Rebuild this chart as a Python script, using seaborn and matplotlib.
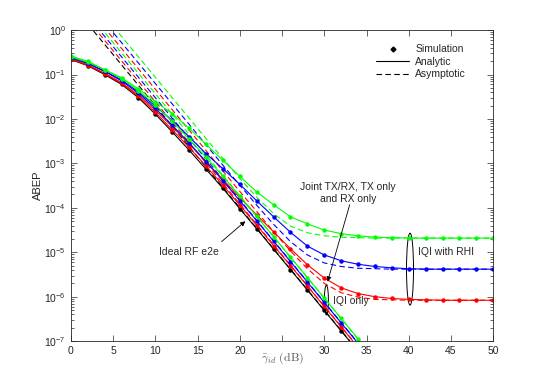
#!/usr/bin/env python3
"""ABEP versus average SNR: ideal RF, IQI only and IQI with RHI
"""

import numpy as np
import matplotlib
matplotlib.use('Agg')
import matplotlib.pyplot as plt
from matplotlib.lines import Line2D
from matplotlib.patches import Ellipse
from matplotlib.ticker import LogLocator, NullFormatter, LogFormatterSciNotation
import seaborn as sns

# x axis: average SNR in dB (simulation points every 2 dB)
snr_db = [0, 2, 4, 6, 8, 10, 12, 14, 16, 18, 20, 22, 24, 26, 28, 30, 32, 34,
          36, 38, 40, 42, 44, 46, 48, 50]
x_ticks = [0, 5, 10, 15, 20, 25, 30, 35, 40, 45, 50]
# the 25 label is hidden behind the axis label in the original
x_tick_labels = ['0', '5', '10', '15', '20', '', '30', '35', '40', '45', '50']
y_ticks = [1e-7, 1e-6, 1e-5, 1e-4, 1e-3, 1e-2, 1e-1, 1e0]

# ABEP, in decades (log10)
ideal = [-0.66, -0.80, -1.00, -1.22, -1.52, -1.89, -2.29, -2.70, -3.13, -3.56,
         -4.02, -4.47, -4.93, -5.39, -5.85, -6.31, -6.77, -7.23]
iqi_red = [-0.65, -0.79, -0.98, -1.20, -1.49, -1.85, -2.24, -2.64, -3.06, -3.49,
           -3.94, -4.39, -4.85, -5.30, -5.76, -6.22, -6.68, -7.14]
iqi_blue = [-0.62, -0.75, -0.93, -1.14, -1.42, -1.76, -2.14, -2.54, -2.96, -3.39,
            -3.84, -4.29, -4.75, -5.21, -5.67, -6.13, -6.59, -7.05]
iqi_green = [-0.60, -0.72, -0.89, -1.09, -1.36, -1.68, -2.05, -2.45, -2.86, -3.29,
             -3.74, -4.19, -4.65, -5.11, -5.57, -6.03, -6.49, -6.95, -7.41]
rhi_red = [-0.64, -0.78, -0.97, -1.18, -1.46, -1.80, -2.17, -2.56, -2.96, -3.36,
           -3.77, -4.16, -4.54, -4.92, -5.28, -5.58, -5.80, -5.93, -6.00, -6.04,
           -6.06, -6.07, -6.08, -6.08, -6.08, -6.08]
rhi_blue = [-0.61, -0.74, -0.92, -1.12, -1.39, -1.71, -2.03, -2.40, -2.78, -3.12,
            -3.47, -3.84, -4.20, -4.55, -4.86, -5.06, -5.19, -5.27, -5.32, -5.35,
            -5.37, -5.38, -5.38, -5.38, -5.38, -5.38]
rhi_green = [-0.58, -0.70, -0.89, -1.07, -1.32, -1.61, -1.88, -2.21, -2.57, -2.93,
             -3.29, -3.64, -3.93, -4.20, -4.36, -4.50, -4.58, -4.63, -4.66, -4.67,
             -4.68, -4.68, -4.68, -4.68, -4.68, -4.68]

# asymptotic (high SNR) curves, log10
asym_ideal = [0.60, 0.14, -0.32, -0.78, -1.24, -1.70, -2.16, -2.62, -3.08, -3.54,
              -4.00, -4.46, -4.92, -5.38, -5.84, -6.30, -6.76, -7.22]
asym_iqi_red = [0.69, 0.23, -0.23, -0.69, -1.15, -1.61, -2.07, -2.53, -2.99, -3.45,
                -3.91, -4.37, -4.83, -5.29, -5.75, -6.21, -6.67, -7.13]
asym_iqi_blue = [0.78, 0.32, -0.14, -0.60, -1.06, -1.52, -1.98, -2.44, -2.90, -3.36,
                 -3.82, -4.28, -4.74, -5.20, -5.66, -6.12, -6.58, -7.04]
asym_iqi_green = [0.87, 0.41, -0.05, -0.51, -0.97, -1.43, -1.89, -2.35, -2.81, -3.27,
                  -3.73, -4.19, -4.65, -5.11, -5.57, -6.03, -6.49, -6.95, -7.41]
asym_rhi_red = [0.97, 0.51, 0.05, -0.41, -0.87, -1.33, -1.79, -2.25, -2.71, -3.17,
                -3.63, -4.08, -4.54, -4.97, -5.37, -5.70, -5.91, -6.01, -6.06, -6.07,
                -6.08, -6.08, -6.08, -6.08, -6.08, -6.08]
asym_rhi_blue = [1.10, 0.64, 0.18, -0.28, -0.74, -1.20, -1.66, -2.12, -2.58, -3.04,
                 -3.49, -3.94, -4.37, -4.76, -5.06, -5.24, -5.32, -5.36, -5.37, -5.38,
                 -5.38, -5.38, -5.38, -5.38, -5.38, -5.38]
asym_rhi_green = [1.24, 0.78, 0.32, -0.14, -0.60, -1.06, -1.52, -1.98, -2.44, -2.89,
                  -3.34, -3.76, -4.13, -4.41, -4.56, -4.63, -4.66, -4.67, -4.68, -4.68,
                  -4.68, -4.68, -4.68, -4.68, -4.68, -4.68]

legend_labels = ['Simulation', 'Analytic', 'Asymptotic']


def draw(ax, logs, color, dashed=False):
    x = snr_db[:len(logs)]
    y = 10.0 ** np.array(logs)
    if dashed:
        sns.lineplot(x=x, y=y, ax=ax, color=color, lw=0.8,
                     linestyle=(0, (5, 3)), estimator=None, sort=False)
    else:
        sns.lineplot(x=x, y=y, ax=ax, color=color, lw=0.8, marker='o',
                     markersize=3.2, markeredgewidth=0, estimator=None, sort=False)


def main():
    sns.set_style('ticks')
    plt.rcParams['font.family'] = ['Liberation Sans', 'DejaVu Sans']
    plt.rcParams['mathtext.fontset'] = 'custom'
    plt.rcParams['mathtext.rm'] = 'Liberation Sans'
    plt.rcParams['mathtext.it'] = 'Liberation Sans:italic'

    fig = plt.figure(figsize=(5.45, 3.82), dpi=100)
    ax = fig.add_axes([0.130, 0.107, 0.775, 0.814])
    ax.set_yscale('log')

    black, red, blue, green = 'k', (1, 0, 0), (0, 0, 1), (0, 1, 0)

    draw(ax, asym_ideal, black, dashed=True)
    draw(ax, asym_iqi_red, red, dashed=True)
    draw(ax, asym_rhi_red, red, dashed=True)
    draw(ax, asym_iqi_blue, blue, dashed=True)
    draw(ax, asym_rhi_blue, blue, dashed=True)
    draw(ax, asym_iqi_green, green, dashed=True)
    draw(ax, asym_rhi_green, green, dashed=True)

    draw(ax, ideal, black)
    draw(ax, iqi_red, red)
    draw(ax, rhi_red, red)
    draw(ax, iqi_blue, blue)
    draw(ax, rhi_blue, blue)
    draw(ax, iqi_green, green)
    draw(ax, rhi_green, green)

    ax.set_xlim(0, 50)
    ax.set_ylim(1e-7, 1)
    ax.set_xticks(x_ticks)
    ax.set_xticklabels(x_tick_labels)
    ax.set_yticks(y_ticks)
    ax.yaxis.set_major_formatter(LogFormatterSciNotation())
    ax.yaxis.set_minor_locator(LogLocator(base=10, subs=np.arange(2, 10), numticks=20))
    ax.yaxis.set_minor_formatter(NullFormatter())
    ax.tick_params(which='both', direction='in', top=True, right=True,
                   labelsize=7.5, labelcolor='0.15', color='0.15', width=0.5)
    ax.tick_params(which='major', length=4)
    ax.tick_params(which='minor', length=2, labelleft=False, labelbottom=False)
    for sp in ax.spines.values():
        sp.set_visible(True)
        sp.set_linewidth(0.6)
        sp.set_color('0.15')

    ax.set_xlabel(r'$\bar{\gamma}_{id}\ \mathrm{(dB)}$', fontsize=8.5, color='0.35',
                  labelpad=-4, math_fontfamily='cm')
    ax.set_ylabel('ABEP', fontsize=8, color='0.15', labelpad=1)

    handles = [Line2D([], [], color='k', marker='D', ls='none', markersize=2.5),
               Line2D([], [], color='k', lw=0.8),
               Line2D([], [], color='k', lw=0.8, ls=(0, (5, 3)))]
    ax.legend(handles, legend_labels, loc='upper left', bbox_to_anchor=(0.70, 0.985),
              frameon=False, fontsize=7.5, handlelength=3.2, labelspacing=0.25,
              handletextpad=0.6)

    # annotations
    arrow = dict(arrowstyle='-|>', color='k', lw=0.6, mutation_scale=7)
    ax.text(14.0, 1.0e-5, 'Ideal RF e2e', fontsize=7.5, ha='center', va='center')
    ax.annotate('', xy=(20.9, 10 ** -4.26), xytext=(17.6, 10 ** -4.80), arrowprops=arrow)

    ax.text(32.8, 10 ** -3.67, 'Joint TX/RX, TX only\nand RX only', fontsize=7.5,
            ha='center', va='center', linespacing=1.2)
    ax.annotate('', xy=(30.3, 10 ** -5.72), xytext=(33.1, 10 ** -3.87), arrowprops=arrow)

    ax.text(31.0, 10 ** -6.10, 'IQI only', fontsize=7.5, ha='left', va='center')
    ax.add_patch(Ellipse((0.605, 0.132), 0.0095, 0.096, transform=ax.transAxes,
                         fill=False, ec='k', lw=0.7))

    ax.text(41.1, 10 ** -4.99, 'IQI with RHI', fontsize=7.5, ha='left', va='center')
    ax.add_patch(Ellipse((0.803, 0.2315), 0.0166, 0.2315, transform=ax.transAxes,
                         fill=False, ec='k', lw=0.7))

    fig.savefig('out.png', dpi=100)


if __name__ == '__main__':
    main()
